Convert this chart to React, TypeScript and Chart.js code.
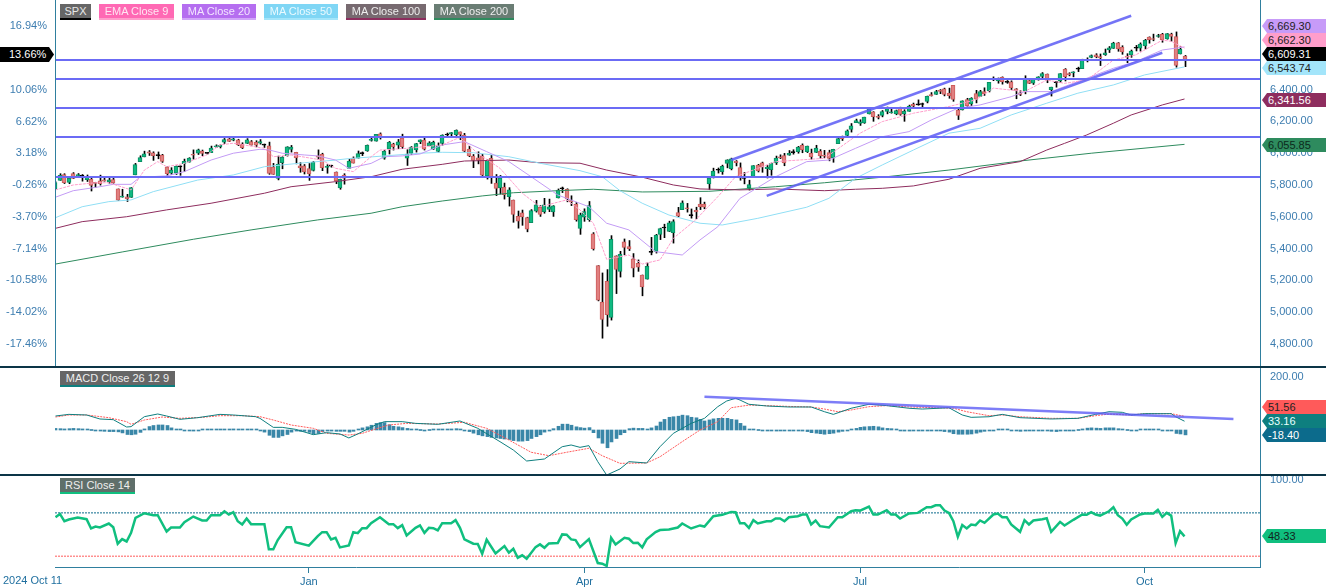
import { useEffect, useRef } from "react";
import { Chart, registerables } from "chart.js";

Chart.register(...registerables);

// daily bars, Oct 2024 to Oct 2025 (index on x, three flat holiday bars included)
const opens = [
  5775,5829,5866,5816,5872,5859,5857,5833,5835,5816,5826,5833,5819,5834,5775,
  5723,5725,5722,5864,5947,5977,6009,6003,5985,5989,5912,5875,5874,5914,5934,5944,5993,6000,6014,5999,6004,
  6040,6042,6069,6090,6082,6085,6057,6061,6074,6069,6063,6052,6047,5913,5842,5940,5984,6024,6006,5920,5920,
  5903,5891,5983,5993,5911,5918,5882,5782,5862,5905,5969,5969,5997,6014,6081,6076,6122,5969,6027,6058,6050,6096,
  5969,5998,6021,6073,6083,6047,6026,6011,6061,6115,6121,6117,6134,6115,6026,5982,5971,5982,5857,
  5968,5812,5781,5786,5726,5705,5603,5624,5594,5563,5635,5660,5632,5646,5630,5718,5776,5772,5701,5680,5527,
  5597,5581,5492,5292,5062,5193,4966,5354,5256,5442,5412,5335,5306,5232,5207,5376,5381,5489,5530,5508,5499,
  5626,5645,5655,5607,5640,5680,5680,5807,5855,5895,5884,5935,5902,5950,5910,5842,5781,5854,5925,5940,5903,
  5897,5939,5978,5985,5988,6004,6010,6050,6010,6000,6005,6012,5988,6004,5970,6060,6104,6112,6150,6193,
  6187,6191,6247,6260,6233,6238,6263,6255,6247,6282,6248,6264,6308,6304,6307,6326,6368,6370,6397,6405,6378,6427,
  6271,6272,6338,6310,6375,6358,6389,6394,6466,6455,6478,6446,6449,6405,6380,6390,6457,6441,6462,6483,6498,
  6401,6445,6456,6529,6499,6506,6530,6533,6586,6604,6619,6608,6621,6650,6660,6696,6668,6611,6619,6661,6662,
  6676,6732,6722,6735,6748,6720,6751,6735,6625,6612,
];
const highs = [
  5822,5871,5871,5846,5878,5872,5866,5863,5842,5817,5862,5842,5847,5850,5775,
  5773,5741,5784,5936,5984,6013,6017,6009,6008,5993,5916,5909,5920,5920,5963,5972,6021,6026,6020,6004,6045,
  6053,6053,6093,6099,6100,6088,6066,6092,6080,6079,6086,6058,6070,5936,5982,5978,6041,6049,6006,5941,5929,
  5935,5949,6021,6000,5928,5925,5882,5837,5871,5961,5977,6014,6008,6052,6100,6119,6128,6018,6074,6063,6087,6120,
  6022,6042,6062,6084,6101,6073,6076,6065,6116,6127,6130,6147,6134,6125,6044,5992,6009,5993,5959,
  5987,5866,5860,5812,5783,5705,5636,5642,5597,5645,5703,5670,5716,5711,5670,5775,5787,5776,5732,5690,5623,
  5650,5696,5500,5292,5246,5267,5481,5354,5382,5460,5450,5368,5328,5233,5309,5470,5489,5528,5553,5572,5581,
  5659,5700,5684,5649,5660,5720,5692,5845,5906,5907,5925,5959,5969,5954,5939,5879,5830,5922,5930,5944,5923,
  5938,5982,5990,5999,6017,6022,6043,6059,6045,6026,6050,6023,6018,6019,6025,6101,6108,6147,6187,6215,
  6211,6227,6284,6262,6243,6269,6291,6279,6272,6290,6274,6303,6316,6336,6316,6360,6382,6396,6401,6410,6410,6427,
  6288,6330,6346,6350,6396,6396,6412,6446,6481,6474,6481,6458,6456,6407,6394,6488,6467,6466,6482,6508,6499,
  6416,6453,6502,6533,6507,6513,6542,6592,6601,6619,6627,6625,6656,6672,6699,6697,6677,6627,6650,6679,6695,
  6717,6733,6750,6749,6755,6754,6756,6764,6671,6616,
];
const lows = [
  5775,5829,5809,5808,5840,5846,5824,5822,5762,5784,5799,5824,5811,5811,5702,
  5723,5696,5722,5864,5947,5977,5986,5955,5965,5942,5854,5866,5866,5861,5885,5944,5963,5992,5984,5994,6004,
  6035,6033,6061,6074,6078,6048,6029,6061,6051,6040,6057,6036,5867,5867,5832,5902,5982,6007,5933,5880,5869,
  5829,5888,5961,5890,5874,5912,5808,5773,5805,5905,5938,5969,5985,6012,6076,6076,6089,5962,5995,6020,6028,6030,
  5923,5991,6007,6060,6020,6047,6024,6004,6051,6104,6099,6111,6085,6008,5978,5909,5933,5858,5837,
  5810,5733,5743,5711,5667,5565,5528,5546,5505,5563,5629,5602,5622,5632,5602,5718,5752,5694,5670,5572,5489,
  5571,5571,5390,5070,4835,4910,4949,5116,5220,5360,5387,5221,5256,5102,5207,5360,5371,5456,5468,5506,5434,
  5600,5645,5629,5591,5587,5645,5650,5772,5844,5875,5867,5908,5895,5920,5830,5807,5768,5854,5882,5880,5844,
  5861,5929,5966,5921,5987,5994,6000,6003,6004,5963,6004,5968,5971,5952,5943,6060,6080,6108,6133,6193,
  6175,6188,6247,6201,6216,6229,6248,6252,6242,6239,6201,6264,6285,6302,6282,6317,6360,6370,6375,6361,6346,6327,
  6212,6272,6294,6300,6317,6358,6364,6386,6457,6441,6435,6440,6400,6343,6363,6374,6438,6433,6460,6469,6444,
  6360,6416,6445,6455,6487,6481,6514,6533,6575,6601,6601,6552,6616,6634,6660,6642,6623,6570,6604,6644,6643,
  6656,6693,6708,6730,6699,6718,6706,6542,6625,6545,
];
const closes = [
  5815,5860,5815,5842,5841,5865,5854,5851,5797,5810,5808,5824,5833,5814,5705,
  5729,5713,5783,5929,5973,5996,6001,5984,5985,5949,5871,5894,5917,5917,5949,5969,5987,6022,5999,5999,6032,
  6047,6050,6086,6075,6090,6053,6035,6084,6051,6051,6074,6051,5872,5867,5931,5974,6040,6038,5971,5907,5882,
  5869,5942,5975,5909,5918,5918,5827,5836,5843,5950,5937,5997,5997,6049,6086,6119,6101,6012,6068,6039,6071,6041,
  5995,6038,6061,6084,6026,6066,6069,6052,6115,6115,6130,6144,6118,6013,5983,5955,5956,5862,5955,
  5850,5778,5843,5739,5770,5615,5572,5599,5522,5639,5675,5615,5675,5663,5668,5768,5777,5712,5693,5581,5612,
  5633,5671,5397,5074,4953,4983,5457,5268,5363,5406,5397,5276,5283,5158,5288,5376,5485,5525,5529,5561,5569,
  5604,5687,5650,5607,5631,5664,5660,5844,5887,5893,5917,5958,5964,5940,5845,5842,5803,5922,5889,5912,5912,
  5936,5970,5971,5939,6000,6006,6039,6022,6045,5977,6033,5983,5981,5968,6025,6092,6092,6141,6173,6205,
  6198,6227,6279,6230,6226,6263,6280,6260,6269,6244,6264,6297,6297,6306,6310,6359,6363,6389,6390,6371,6363,6339,
  6238,6330,6299,6345,6340,6389,6373,6446,6467,6469,6450,6449,6411,6396,6370,6467,6439,6466,6481,6502,6460,
  6416,6448,6502,6482,6495,6513,6532,6587,6584,6615,6607,6600,6632,6664,6694,6657,6638,6605,6644,6661,6688,
  6711,6715,6716,6740,6715,6754,6735,6553,6655,6590,
];

// moving averages at these bar indexes
const ema9Idx = [0,4,9,12,17,20,23,25,29,34,37,40,47,49,53,60,63,67,71,73,79,87,91,95,100,105,109,115,118,121,124,129,132,136,139,144,149,153,162,173,181,186,193,201,207,211,218,223,227,232,238,243,249,251,254];
const ema9Vals = [5769,5800,5814,5814,5769,5894,5947,5915,5936,5989,6052,6063,6031,5978,5989,5957,5905,5884,5978,6020,6031,6052,6100,5999,5905,5748,5663,5706,5643,5559,5332,5359,5302,5328,5464,5580,5726,5852,5947,5968,6126,6199,6252,6294,6336,6410,6388,6461,6440,6461,6587,6619,6712,6705,6662.3];
const ma20Idx = [0,4,10,13,17,19,25,29,35,40,46,48,51,56,59,63,66,71,74,78,82,87,92,97,102,107,113,120,124,129,135,141,145,149,154,162,169,174,180,186,192,197,203,208,215,218,224,230,238,243,249,254];
const ma20Vals = [5723,5764,5789,5804,5804,5849,5857,5884,5957,6000,6025,6021,6000,5989,5983,5957,5905,5936,5978,5983,5995,6052,6073,6010,5947,5852,5737,5663,5559,5517,5380,5359,5454,5537,5716,5852,5947,5957,6031,6104,6136,6209,6283,6304,6356,6388,6388,6451,6535,6577,6650,6669.3];
const ma50Idx = [0,6,12,17,22,32,40,47,56,63,66,74,82,87,94,102,109,118,123,127,132,138,145,150,158,169,174,180,186,193,201,208,215,223,230,238,245,254];
const ma50Vals = [5594,5663,5695,5706,5758,5831,5863,5915,5940,5957,5966,5983,6000,6006,6003,5978,5937,5890,5852,5764,5685,5611,5559,5548,5590,5660,5716,5842,5926,6020,6126,6157,6241,6315,6378,6430,6493,6543.74];
const ma100Idx = [0,6,16,25,35,47,53,63,71,78,87,92,102,109,118,124,132,139,145,154,162,173,180,186,193,201,208,217,223,227,232,238,242,249,254];
const ma100Vals = [5527,5569,5600,5643,5685,5748,5789,5821,5852,5899,5930,5951,5957,5940,5937,5894,5849,5800,5775,5769,5775,5764,5773,5779,5794,5836,5905,5947,6020,6062,6115,6189,6241,6304,6341.56];
const ma200Idx = [0,15,31,44,59,71,78,87,96,103,113,121,132,147,162,173,186,201,217,233,254];
const ma200Vals = [5302,5378,5458,5517,5580,5622,5663,5699,5731,5751,5764,5773,5756,5760,5789,5814,5849,5894,5951,6000,6055.85];

// drawn levels and channel lines
const levels = [6587,6468,6285,6102,5850];
const upperChannelIdx = [152,242];
const upperChannelVals = [5957,6866];
const lowerChannelIdx = [160,249];
const lowerChannelVals = [5731,6633];

const priceTicks = [4800,5000,5200,5400,5600,5800,6000,6200,6400,6600,6800];
const pctTicks = [-17.46,-14.02,-10.58,-7.14,-3.7,-0.26,3.18,6.62,10.06,13.5,16.94];

// MACD pane
const macdIdx = [0,3,7,10,13,16,17,20,23,25,28,32,37,40,45,46,49,51,54,58,61,64,66,68,72,74,78,81,86,91,95,100,103,106,110,114,116,118,120,122,124,127,129,133,136,139,143,146,149,151,153,154,156,160,165,170,173,175,179,183,187,192,195,201,204,206,210,213,217,224,230,234,237,240,242,245,251,252,254];
const macdVals = [52.8,59,56.6,41.5,39,11.3,12.6,50.3,60.4,52.8,40.3,46.5,59,56.6,50.3,44,10,10,2.5,-17.6,-10,-15,-30,-15,18.9,31.5,31.5,25,21.4,34,6.3,-44,-75.5,-117,-109.4,-63,-56.6,-65.4,-59,-119.5,-170,-147,-119.5,-124.5,-63,-12.6,25,44,88,109.4,119.5,113,97,90.6,86.8,86.8,69,59,82,97,92,82,79,84,56.6,47.8,50,59,46.5,41.5,44,59,69,66.7,56.6,61.6,61.6,50,33.16];
const signalIdx = [0,3,7,12,16,17,20,24,28,33,37,42,46,49,53,58,61,66,69,72,75,79,86,92,97,102,107,111,115,120,123,127,133,136,141,145,149,152,156,160,165,170,173,176,179,183,187,192,198,202,205,210,213,217,224,230,234,237,242,245,251,254];
const signalVals = [49,56.6,56.6,46.5,31.5,21.4,37.7,49,44,47.7,54,54,50.3,37.7,18.9,6.3,-12.6,-19,-12.6,3.8,18.9,25,22.6,29,6.3,-37.7,-84,-96.9,-84,-69,-97,-125.8,-124.5,-101,-44,0,31.5,84,94,91.8,89,86.8,79,69,75.5,88,92,87,84,82,69,54,56.6,50,44,44,54,60,56.6,61.6,61.6,51.56];
const histVals = [
  6,5,4,5,6,5,4,3,0,-2,
  -4,-5,-6,-6,-7,-11,-17,-18,-16,-9,
  4,13,17,19,19,17,8,3,1,-1,
  -3,-4,-2,1,2,2,2,3,3,3,
  4,3,1,2,3,1,-3,-8,-20,-28,
  -28,-22,-17,-8,-4,-5,-5,-9,-15,-13,-6,
  -4,-4,-5,-5,-5,-8,-5,3,8,12,
  18,25,28,28,20,14,12,9,6,3,
  1,0,-1,0,1,1,2,3,4,5,
  3,-1,-6,-12,-18,-22,-25,-28,-30,-32,
  -34,-36,-40,-42,-42,-40,-32,-25,-18,-8,
  -4,5,14,22,22,18,12,9,7,9,
  -10,-30,-50,-67,-45,-32,-18,-10,5,7,
  6,6,1,8,15,30,40,48,50,52,
  56,54,48,46,40,34,38,42,44,44,
  44,40,38,25,15,2,1,0,-1,-2,
  -3,-4,-2,-1,-1,-1,-2,-4,-6,-10,
  -12,-14,-16,-14,-12,-8,-5,-1,2,6,
  10,12,13,14,12,8,6,5,3,-1,
  -4,-4,-3,-3,-2,-2,-1,-1,-2,-6,
  -8,-14,-16,-16,-16,-15,-12,-8,-5,-3,
  -1,2,2,1,-2,-3,-5,-4,-3,-2,
  -1,-1,-2,-5,-6,-4,-3,-1,-1,0,
  4,7,8,7,6,8,8,8,5,2,
  0,-1,-1,1,2,2,2,1,-1,-1,
  -3,-13,-15,-18.4,
];
const macdTrendIdx = [146,265];
const macdTrendVals = [125.7,41.5];

// RSI pane
const rsiIdx = [0,1,2,3,5,7,8,9,10,12,13,14,15,16,17,18,20,22,23,25,26,28,29,31,33,34,35,37,38,39,40,41,42,43,44,47,48,49,50,52,53,54,57,59,60,61,62,63,64,66,67,68,69,70,71,73,75,76,77,78,79,81,82,83,84,85,86,87,89,90,91,92,94,95,96,97,99,101,102,103,104,105,106,108,109,110,111,113,114,115,116,117,118,120,122,123,124,125,126,128,129,130,131,132,133,135,136,138,140,141,143,145,146,148,150,152,153,154,155,156,157,158,160,161,162,163,164,165,167,168,169,170,171,172,174,176,177,179,180,181,183,184,185,187,188,189,190,192,194,196,197,198,199,200,201,202,203,204,205,206,207,208,209,211,212,213,214,215,217,218,219,220,222,223,224,226,227,229,231,232,233,234,235,237,238,239,240,241,242,244,245,247,248,249,250,251,252,253,254];
const rsiVals = [66,69,62.3,63.9,65.7,64.2,55.6,57.4,56.5,60.2,56.8,41.5,45.8,43.6,51.6,65.4,69.7,67.9,67.9,52.8,56.5,56.5,61.4,66.6,63,63,67.9,67.9,71.5,68.5,70.6,62.3,59.3,64.8,59.6,59.6,36.3,36.3,44.9,56.8,56.8,43,39.7,48.5,52.2,52.2,45.5,47,38.1,40,52.2,51.3,55.9,55.9,60.5,66,59.6,59.6,55.9,58.7,49.2,56.2,58.4,51.6,56.2,55.9,53.8,60.5,60.5,63.3,56.2,45.5,41.5,41.2,32.3,45.2,32.6,39.4,33.2,36.9,28.6,30.8,27.7,38.4,40.9,37.8,41.8,42.1,50.1,49.8,45.5,44.9,38.4,45.8,23.7,23.1,21,47,40.9,47,46.1,42.1,42.4,38.1,45.5,52.2,54.1,54.7,56.5,60.2,55.6,58.4,57.4,66.9,68.2,70.9,70.6,60.5,60.5,56.2,63.3,60.2,62.3,62.3,64.8,64.8,62.3,66,66.9,68.5,68.5,59.3,63,57.7,56.5,66,66,71.5,72.5,72.1,75.8,68.5,68.5,72.5,68.5,68.5,64.8,69.4,70,75.2,75.2,77,77,72.1,70,62.3,47.9,58.7,55.6,59.3,58.7,63,60.8,68.5,69.4,66,66,59.3,52.5,63.3,59.3,63,64.2,65.1,52.5,61.7,58.4,63.6,68.5,68.2,70.6,68.5,67.5,71.5,75.2,67.9,64.8,59,63.9,68.5,69.4,69.4,72.8,66.3,70,67.5,42.1,53.1,48.33];

const monthIdx = [57,119,181,245];
const monthLabels = ["Jan","Apr","Jul","Oct"];

const legendChips = [
  { text: "SPX", left: 60, width: 31, bg: "#666666", strip: "#000000", color: "#e8e8e8" },
  { text: "EMA Close 9", left: 99, width: 75, bg: "#ff69b4", strip: "#ff9ecb", color: "#ffe6f2" },
  { text: "MA Close 20", left: 182, width: 74, bg: "#b56ef0", strip: "#d0a5f8", color: "#f3e6ff" },
  { text: "MA Close 50", left: 264, width: 74, bg: "#7fd6f5", strip: "#a3e5fa", color: "#eafaff" },
  { text: "MA Close 100", left: 346, width: 80, bg: "#776a70", strip: "#8e2d5e", color: "#eeeeee" },
  { text: "MA Close 200", left: 434, width: 80, bg: "#6a7d74", strip: "#2e8b5e", color: "#eeeeee" },
];
const valueTags = [
  { text: "6,669.30", center: 26, bg: "#c79bf8", color: "#222222" },
  { text: "6,662.30", center: 40, bg: "#ff9ecb", color: "#222222" },
  { text: "6,609.31", center: 54, bg: "#000000", color: "#ffffff" },
  { text: "6,543.74", center: 68, bg: "#a3e5fa", color: "#222222" },
  { text: "6,341.56", center: 100, bg: "#8e2d5e", color: "#ffffff" },
  { text: "6,055.85", center: 145, bg: "#2e8b5e", color: "#0c2a1c" },
  { text: "51.56", center: 407, bg: "#ff5a5a", color: "#222222" },
  { text: "33.16", center: 421, bg: "#0e7f7f", color: "#e8ffff" },
  { text: "-18.40", center: 435, bg: "#0c6b8c", color: "#ffffff" },
  { text: "48.33", center: 536, bg: "#10bf7f", color: "#10241c" },
];

const FONT = "'Liberation Sans', Arial, sans-serif";
const LABEL_COLOR = "#3d7db0";
const xMin = -0.11;
const xMax = 270.98;

const line = (idx: number[], vals: number[], color: string, width = 1, dash: number[] = [], order = 1) => ({
  type: "line" as const,
  data: idx.map((x, i) => ({ x, y: vals[i] })),
  borderColor: color,
  borderWidth: width,
  borderDash: dash,
  pointRadius: 0,
  tension: 0,
  order,
  yAxisID: "y",
});

const level = (value: number, color: string, width: number, dash: number[] = [], order = 0) =>
  line([xMin, xMax], [value, value], color, width, dash, order);

// keeps candles and histogram bars on whole pixels so wicks stay crisp
const snapBars = {
  id: "snapBars",
  afterDatasetsUpdate(chart: any) {
    chart.getSortedVisibleDatasetMetas().forEach((meta: any) => {
      if (meta.type !== "bar") return;
      const odd = meta.controller.getDataset().barThickness % 2 === 1;
      meta.data.forEach((el: any) => {
        el.x = Math.round(el.x) + (odd ? 0.5 : 0);
      });
    });
  },
};

const fixedTicks = (values: number[]) => (axis: any) => {
  axis.ticks = values.map((value) => ({ value }));
};

const fixedSize = (width: number | null, height: number | null) => (axis: any) => {
  if (width !== null) axis.width = width;
  if (height !== null) axis.height = height;
  axis.paddingTop = 0;
  axis.paddingBottom = 0;
  axis.paddingLeft = 0;
  axis.paddingRight = 0;
};

const priceAxis = (min: number, max: number, ticks: number[], format: (v: number) => string, position = "right") => ({
  type: "linear" as const,
  position,
  min,
  max,
  grid: { display: false, drawTicks: false },
  border: { display: false },
  afterBuildTicks: fixedTicks(ticks),
  afterFit: fixedSize(position === "right" ? 66 : 55, null),
  ticks: {
    autoSkip: false,
    padding: position === "right" ? 10 : 8,
    color: LABEL_COLOR,
    font: { family: FONT, size: 11 },
    callback: (v: any) => format(Number(v)),
  },
});

// offset: false because a bar chart turns the offset on by default
const hiddenX = {
  type: "linear" as const,
  min: xMin,
  max: xMax,
  offset: false,
  display: false,
  afterFit: fixedSize(null, 0),
};

const baseOptions = (scales: any, leftPad: number) => ({
  responsive: false,
  animation: false as const,
  events: [],
  layout: { padding: { left: leftPad, top: 0, right: 0, bottom: 0 } },
  plugins: { legend: { display: false }, tooltip: { enabled: false } },
  scales,
});

const money = (v: number) => v.toLocaleString("en-US", { minimumFractionDigits: 2, maximumFractionDigits: 2 });

const PRICE_MIN = 4653.6;
const PRICE_MAX = 6965;
const PRICE_BASE = 5815;

export default function App() {
  const mainRef = useRef<HTMLCanvasElement>(null);
  const macdRef = useRef<HTMLCanvasElement>(null);
  const rsiRef = useRef<HTMLCanvasElement>(null);

  useEffect(() => {
    if (!mainRef.current || !macdRef.current || !rsiRef.current) return;

    const bodyColor = (up: string, down: string) =>
      opens.map((o, i) => (Math.abs(o - closes[i]) <= 3 ? "#000000" : closes[i] >= o ? up : down));

    const main = new Chart(mainRef.current, {
      type: "bar",
      data: {
        datasets: [
          ...levels.map((l) => level(l, "#6b6bf5", 2)),
          line(upperChannelIdx, upperChannelVals, "rgba(92,92,245,0.85)", 2.5, [], 0),
          line(lowerChannelIdx, lowerChannelVals, "rgba(92,92,245,0.85)", 2.5, [], 0),
          line(ema9Idx, ema9Vals, "#ff9ecb", 1, [3, 1]),
          line(ma20Idx, ma20Vals, "#c39bf5"),
          line(ma50Idx, ma50Vals, "#90dff5"),
          line(ma100Idx, ma100Vals, "#8e2d5e"),
          line(ma200Idx, ma200Vals, "#2e8b5e"),
          {
            type: "bar" as const,
            data: opens.map((o, i) => ({ x: i, y: [o, closes[i]] })),
            backgroundColor: bodyColor("#0fb981", "#e08080"),
            borderColor: bodyColor("#0a8f63", "#cc5c5c"),
            borderWidth: 1,
            borderSkipped: false,
            barThickness: 4,
            minBarLength: 1,
            grouped: false,
            order: 2,
            yAxisID: "y",
          },
          {
            type: "bar" as const,
            data: lows.map((l, i) => ({ x: i, y: [l, highs[i]] })),
            backgroundColor: "#000000",
            barThickness: 1,
            grouped: false,
            order: 3,
            yAxisID: "y",
          },
        ] as any,
      },
      options: baseOptions(
        {
          x: hiddenX,
          y: priceAxis(PRICE_MIN, PRICE_MAX, priceTicks, money),
          pct: priceAxis(
            (PRICE_MIN / PRICE_BASE - 1) * 100,
            (PRICE_MAX / PRICE_BASE - 1) * 100,
            pctTicks,
            (v) => v.toFixed(2) + "%",
            "left",
          ),
        },
        0,
      ) as any,
      plugins: [snapBars],
    });

    const macd = new Chart(macdRef.current, {
      type: "bar",
      data: {
        datasets: [
          line(macdTrendIdx, macdTrendVals, "rgba(92,92,245,0.8)", 2.5, [], 0),
          line(macdIdx, macdVals, "#0e7f7f"),
          line(signalIdx, signalVals, "#ff5a5a", 1, [2, 1]),
          {
            type: "bar" as const,
            data: histVals.map((y, x) => ({ x, y })),
            backgroundColor: "#3a87a8",
            barThickness: 3,
            minBarLength: 1,
            grouped: false,
            order: 3,
            yAxisID: "y",
          },
        ] as any,
      },
      options: baseOptions(
        {
          x: hiddenX,
          y: priceAxis(-169.8, 237.7, [200], money),
        },
        55,
      ) as any,
      plugins: [snapBars],
    });

    const rsi = new Chart(rsiRef.current, {
      type: "line",
      data: {
        datasets: [
          level(70, "#0c6b8c", 1, [2, 1], 2),
          level(30, "#ff5a5a", 1, [2, 1], 2),
          line(rsiIdx, rsiVals, "#10bf7f", 2.5),
        ] as any,
      },
      options: baseOptions(
        {
          x: {
            type: "linear",
            min: xMin,
            max: xMax,
            grid: { drawOnChartArea: false, tickLength: 6, color: "#2f7f9e" },
            border: { color: "#2f7f9e", width: 1 },
            afterBuildTicks: fixedTicks(monthIdx),
            afterFit: fixedSize(null, 20),
            ticks: {
              autoSkip: false,
              maxRotation: 0,
              padding: 2,
              color: "#1f6f9f",
              font: { family: FONT, size: 11 },
              callback: (v: any) => monthLabels[monthIdx.indexOf(Number(v))],
            },
          },
          y: priceAxis(20, 105, [100], money),
        },
        55,
      ) as any,
    });

    return () => {
      main.destroy();
      macd.destroy();
      rsi.destroy();
    };
  }, []);

  const chip = (text: string, left: number, top: number, width: number, bg: string, strip: string, color: string) => (
    <div
      key={text}
      style={{
        position: "absolute",
        left,
        top,
        width,
        height: 14,
        lineHeight: "14px",
        background: bg,
        borderBottom: `2px solid ${strip}`,
        color,
        fontSize: 11,
        textAlign: "center",
      }}
    >
      {text}
    </div>
  );

  const canvasStyle = (top: number) => ({ position: "absolute" as const, left: 0, top });

  return (
    <div style={{ position: "fixed", left: 0, top: 0, width: 1326, height: 587, background: "#fff", overflow: "hidden", fontFamily: FONT }}>
      <canvas ref={mainRef} width={1326} height={367} style={canvasStyle(0)} />
      <canvas ref={macdRef} width={1326} height={108} style={canvasStyle(367)} />
      <canvas ref={rsiRef} width={1326} height={112} style={canvasStyle(475)} />

      <div style={{ position: "absolute", left: 55, top: 0, width: 1, height: 367, background: "#2f7f9e" }} />
      <div style={{ position: "absolute", left: 1260, top: 0, width: 1, height: 568, background: "#2f7f9e" }} />
      <div style={{ position: "absolute", left: 0, top: 366, width: 1326, height: 2, background: "#0c3547" }} />
      <div style={{ position: "absolute", left: 0, top: 474, width: 1326, height: 2, background: "#0c3547" }} />

      {legendChips.map((c) => chip(c.text, c.left, 4, c.width, c.bg, c.strip, c.color))}
      {chip("MACD Close 26 12 9", 60, 371, 115, "#666666", "#0e7f7f", "#eeeeee")}
      {chip("RSI Close 14", 60, 478, 75, "#5f6f6a", "#10bf7f", "#eeeeee")}

      {valueTags.map((t) => (
        <div
          key={t.text}
          style={{
            position: "absolute",
            left: 1262,
            top: t.center - 7,
            width: 64,
            height: 14,
            lineHeight: "14px",
            paddingLeft: 6,
            boxSizing: "border-box",
            background: t.bg,
            color: t.color,
            fontSize: 11,
            clipPath: "polygon(5px 0, 100% 0, 100% 100%, 5px 100%, 0 50%)",
          }}
        >
          {t.text}
        </div>
      ))}

      <div
        style={{
          position: "absolute",
          left: 0,
          top: 47,
          width: 54,
          height: 15,
          lineHeight: "15px",
          paddingLeft: 9,
          boxSizing: "border-box",
          background: "#000",
          color: "#fff",
          fontSize: 11,
          clipPath: "polygon(0 0, 49px 0, 100% 50%, 49px 100%, 0 100%)",
        }}
      >
        13.66%
      </div>

      <div style={{ position: "absolute", left: 3, top: 573, fontSize: 11, lineHeight: "14px", color: "#1f6f9f" }}>2024 Oct 11</div>
    </div>
  );
}
